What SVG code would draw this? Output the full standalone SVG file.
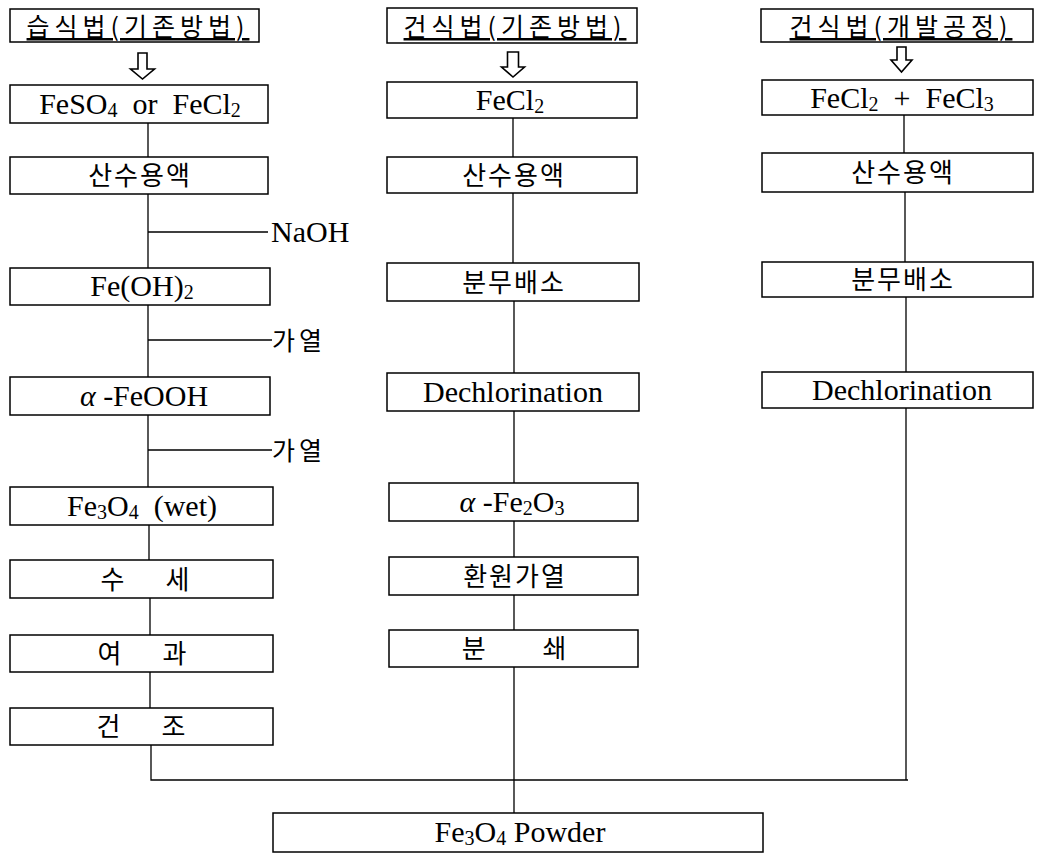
<svg xmlns="http://www.w3.org/2000/svg" width="1038" height="854" viewBox="0 0 1038 854">
<style>
.box{fill:#fff;stroke:#000;stroke-width:1.5}
.ln{fill:none;stroke:#000;stroke-width:1.3}
.arr{fill:#fff;stroke:#000;stroke-width:1.6;stroke-linejoin:miter}
.lat{font-family:"Liberation Serif","Times New Roman",serif;font-size:30px;fill:#000;text-anchor:middle}
.ko{font-family:"Noto Sans CJK KR","Noto Sans",sans-serif;font-size:26px;fill:#000;text-anchor:middle;letter-spacing:2px}
.hd{font-family:"Noto Sans CJK KR","Noto Sans",sans-serif;font-size:25px;fill:#000;text-anchor:middle;letter-spacing:5px;text-decoration:underline}
.lab{font-family:"Noto Sans CJK KR","Noto Sans",sans-serif;font-size:25px;fill:#000;letter-spacing:4px}
.labl{font-family:"Liberation Serif","Times New Roman",serif;font-size:30px;fill:#000}
.sub{font-size:20px}
.it{font-style:italic}
</style>
<rect width="1038" height="854" fill="#fff"/>
<g id="connectors">
<path class="ln" d="M148 123V157M148 194V268M148 232H268M148 305V377M148 340H272M148 415V487M148 450H272M149 525V560M150 598V635M150 672V708M151 745V780H908M906 408V780"/>
<path class="ln" d="M513 118V157M513 193V263M514 301V373M514 411V483M514 521V557M514 595V630M514 667V813"/>
<path class="ln" d="M904 115V153M905 192V262M906 297V372"/>
<path class="arr" d="M138 53H147V69H154.5L142.5 79L130.5 69H138Z"/>
<path class="arr" d="M507.5 52H518.5V67H524.5L513 77L501.5 67H507.5Z"/>
<path class="arr" d="M897 47H906V60H912L901.5 72L891 60H897Z"/>
</g>
<g id="h-wet"><rect class="box" x="10" y="9" width="249" height="33"/><text class="hd" x="138" y="36">습식법(기존방법)</text></g>
<g id="h-dry"><rect class="box" x="387" y="8" width="250" height="35"/><text class="hd" x="515" y="36">건식법(기존방법)</text></g>
<g id="h-new"><rect class="box" x="761" y="9" width="272" height="33"/><text class="hd" x="901" y="36">건식법(개발공정)</text></g>

<g id="n-feso4"><rect class="box" x="10" y="85" width="258" height="38"/><text class="lat" x="140" y="114" xml:space="preserve">FeSO<tspan class="sub" dy="3">4</tspan><tspan dy="-3">  or  FeCl</tspan><tspan class="sub" dy="3">2</tspan></text></g>
<g id="n-acid1"><rect class="box" x="10" y="157" width="258" height="37"/><text class="ko" x="140" y="185">산수용액</text></g>
<g id="l-naoh"><text class="labl" x="271" y="242">NaOH</text></g>
<g id="n-feoh2"><rect class="box" x="10" y="268" width="260" height="37"/><text class="lat" x="142" y="296">Fe(OH)<tspan class="sub" dy="3">2</tspan></text></g>
<g id="l-heat1"><text class="lab" x="272" y="350">가열</text></g>
<g id="n-feooh"><rect class="box" x="10" y="377" width="260" height="38"/><text class="lat" x="144" y="406"><tspan class="it">α</tspan> -FeOOH</text></g>
<g id="l-heat2"><text class="lab" x="272" y="460">가열</text></g>
<g id="n-fe3o4wet"><rect class="box" x="10" y="487" width="263" height="38"/><text class="lat" x="142" y="516" xml:space="preserve">Fe<tspan class="sub" dy="3">3</tspan><tspan dy="-3">O</tspan><tspan class="sub" dy="3">4</tspan><tspan dy="-3">  (wet)</tspan></text></g>
<g id="n-wash"><rect class="box" x="10" y="560" width="263" height="38"/><text class="ko" x="146" y="589" xml:space="preserve">수     세</text></g>
<g id="n-filter"><rect class="box" x="10" y="635" width="263" height="37"/><text class="ko" x="143" y="663" xml:space="preserve">여     과</text></g>
<g id="n-dry1"><rect class="box" x="10" y="708" width="263" height="37"/><text class="ko" x="142" y="736" xml:space="preserve">건     조</text></g>

<g id="n-fecl2"><rect class="box" x="387" y="82" width="250" height="36"/><text class="lat" x="510" y="110">FeCl<tspan class="sub" dy="3">2</tspan></text></g>
<g id="n-acid2"><rect class="box" x="387" y="157" width="250" height="36"/><text class="ko" x="514" y="185">산수용액</text></g>
<g id="n-spray2"><rect class="box" x="387" y="263" width="252" height="38"/><text class="ko" x="514" y="292">분무배소</text></g>
<g id="n-dechl2"><rect class="box" x="387" y="373" width="252" height="38"/><text class="lat" x="513" y="402">Dechlorination</text></g>
<g id="n-fe2o3"><rect class="box" x="389" y="483" width="249" height="38"/><text class="lat" x="512" y="512"><tspan class="it">α</tspan> -Fe<tspan class="sub" dy="3">2</tspan><tspan dy="-3">O</tspan><tspan class="sub" dy="3">3</tspan></text></g>
<g id="n-reduce"><rect class="box" x="389" y="557" width="249" height="38"/><text class="ko" x="515" y="586">환원가열</text></g>
<g id="n-grind"><rect class="box" x="389" y="630" width="249" height="37"/><text class="ko" x="515" y="658" xml:space="preserve">분       쇄</text></g>

<g id="n-fecl23"><rect class="box" x="762" y="80" width="271" height="35"/><text class="lat" x="902" y="108" xml:space="preserve">FeCl<tspan class="sub" dy="3">2</tspan><tspan dy="-3">  +  FeCl</tspan><tspan class="sub" dy="3">3</tspan></text></g>
<g id="n-acid3"><rect class="box" x="762" y="153" width="271" height="39"/><text class="ko" x="903" y="182">산수용액</text></g>
<g id="n-spray3"><rect class="box" x="762" y="262" width="271" height="35"/><text class="ko" x="903" y="289">분무배소</text></g>
<g id="n-dechl3"><rect class="box" x="762" y="372" width="271" height="36"/><text class="lat" x="902" y="400">Dechlorination</text></g>

<g id="n-powder"><rect class="box" x="273" y="813" width="490" height="39"/><text class="lat" x="520" y="842" xml:space="preserve">Fe<tspan class="sub" dy="3">3</tspan><tspan dy="-3">O</tspan><tspan class="sub" dy="3">4</tspan><tspan dy="-3"> Powder</tspan></text></g>
</svg>
